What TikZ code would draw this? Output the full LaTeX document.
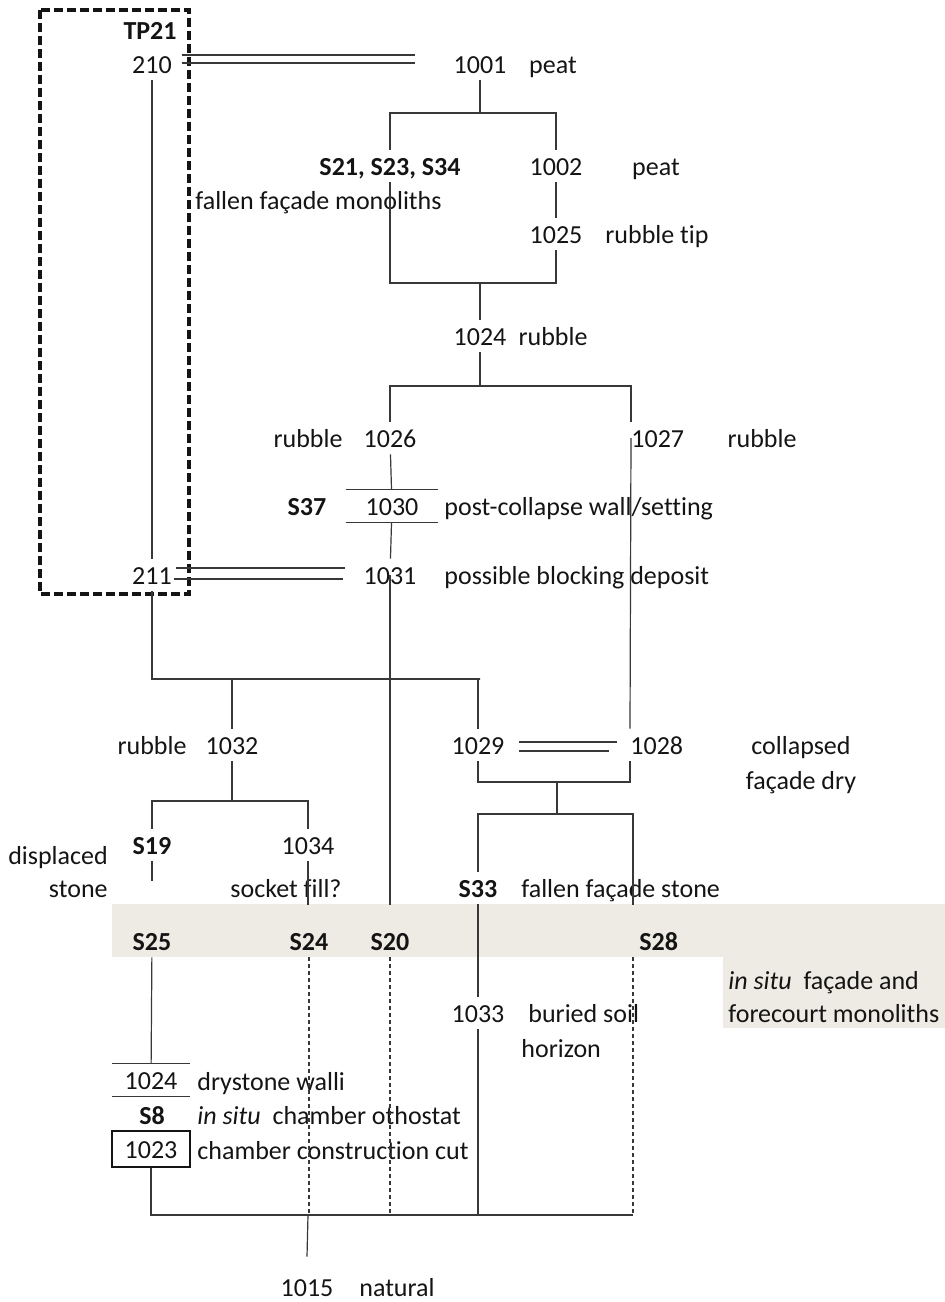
\documentclass[tikz,border=0pt]{standalone}
\usepackage{fontspec}
\setmainfont{Carlito}[Ligatures=NoCommon]
\usetikzlibrary{positioning}
\definecolor{bandgrey}{rgb}{0.933,0.922,0.894}
\definecolor{linegrey}{rgb}{0.22,0.22,0.22}
\definecolor{inkblack}{rgb}{0.08,0.08,0.08}

\begin{document}
\begin{tikzpicture}[line cap=butt,line join=miter,x=0.5pt,y=-0.5pt,
	every node/.style={font=\fontsize{13}{15}\selectfont,text=inkblack,inner sep=0pt,text height=9pt,text depth=0pt},
	ctx/.style={inner ysep=3.5pt},
	stone/.style={ctx,font=\fontsize{13}{15}\selectfont\bfseries},
	layer/.style={ctx,minimum width=39pt},
	link/.style={color=linegrey,line width=0.6pt},
	buried/.style={link,dash pattern=on 2pt off 1.5pt},
	pit/.style={color=inkblack,line width=1.6pt,dash pattern=on 4.5pt off 2pt}]
		\useasboundingbox (0,0) rectangle (945,1302);
		\fill [bandgrey] (112,904) rectangle (945,957);
		\fill [bandgrey] (723,957) rectangle (945,1028);
		\coordinate (bandtop) at (0,905);
		\draw [pit] (40,10) rectangle (189,594);
		% texts
		\node [stone,anchor=east] (tp21) at (177,30) {TP21};
		\node [ctx] (n210) at (152,64) {210};
		\node [ctx] (n1001) at (480,64) {1001};
		\node (peat1) at (553,64) {peat};
		\node [stone] (s21) at (390,166) {S21, S23, S34};
		\node [anchor=west] (fallen1) at (195,200) {fallen façade monoliths};
		\node [ctx] (n1002) at (556,166) {1002};
		\node (peat2) at (656,166) {peat};
		\node [ctx] (n1025) at (556,234) {1025};
		\node [anchor=west] (rubbletip) at (605,234) {rubble tip};
		\node [ctx] (n1024) at (480,336) {1024};
		\node (rubble1) at (553,336) {rubble};
		\node [ctx] (n1026) at (390,438) {1026};
		\node (rubble2) at (308,438) {rubble};
		\node [ctx,anchor=west] (n1027) at (631,438) {1027};
		\node (rubble3) at (762,438) {rubble};
		\node [stone] (s37) at (307,506) {S37};
		\node [ctx,minimum width=46pt] (n1030) at (392,506) {1030};
		\node [anchor=west] (postcollapse) at (444,506) {post-collapse wall/setting};
		\node [ctx] (n211) at (152,575) {211};
		\node [ctx] (n1031) at (390,575) {1031};
		\node [anchor=west] (blocking) at (444,575) {possible blocking deposit};
		\node (rubble4) at (152,745) {rubble};
		\node [ctx] (n1032) at (232,745) {1032};
		\node [ctx] (n1029) at (478,745) {1029};
		\node [ctx,anchor=west] (n1028) at (630,745) {1028};
		\node (collapsed) at (801,745) {collapsed};
		\node (facadedry) at (801,780) {façade dry};
		\node [stone] (s19) at (152,845) {S19};
		\node (displaced) at (58,855) {displaced};
		\node [anchor=east] (stonetxt) at (108,888) {stone};
		\node [ctx] (n1034) at (308,845) {1034};
		\node (socketfill) at (286,888) {socket fill?};
		\node [stone] (s33) at (478,888) {S33};
		\node [anchor=west] (fallenstone) at (521,888) {fallen façade stone};
		\node [stone] (s25) at (152,941) {S25};
		\node [stone] (s24) at (309,941) {S24};
		\node [stone] (s20) at (390,941) {S20};
		\node [stone,anchor=west] (s28) at (633,941) {\hspace{3pt}S28};
		\node [anchor=west] (insitu1) at (728,980) {\textit{in situ}\ \ façade and};
		\node [anchor=west] (insitu2) at (728,1013) {forecourt monoliths};
		\node [ctx] (n1033) at (478,1013) {1033};
		\node [anchor=west] (buried) at (528,1013) {buried soil};
		\node [anchor=west] (horizon) at (521,1048) {horizon};
		\node [layer] (n1024b) at (151,1080) {1024};
		\node [anchor=west] (drystone) at (197,1081) {drystone walli};
		\node [stone] (s8) at (152,1115) {S8};
		\node [anchor=west] (othostat) at (197,1115) {\textit{in situ}\ \ chamber othostat};
		\node [layer,draw=inkblack,line width=0.8pt,minimum height=18pt] (n1023) at (151,1149) {1023};
		\node [anchor=west] (cut) at (197,1150) {chamber construction cut};
		\node [ctx] (n1015) at (307,1287) {1015};
		\node (natural) at (397,1287) {natural};
		% equivalences
		\draw [link] ([xshift=5pt,yshift=4.5pt]n210.east) -- ([xshift=-19pt,yshift=4.5pt]n1001.west);
		\draw [link] ([xshift=5pt,yshift=0.5pt]n210.east) -- ([xshift=-19pt,yshift=0.5pt]n1001.west);
		\draw [link] ([xshift=2pt,yshift=3.5pt]n211.east) -- ([xshift=-9pt,yshift=3.5pt]n1031.west);
		\draw [link] ([xshift=1pt,yshift=-2pt]n211.east) -- ([xshift=-10pt,yshift=-2pt]n1031.west);
		\draw [link] ([xshift=7pt,yshift=1.5pt]n1029.east) -- ([xshift=-6.5pt,yshift=1.5pt]n1028.west);
		\draw [link] ([xshift=7pt,yshift=-3pt]n1029.east) -- ([xshift=-10.5pt,yshift=-3pt]n1028.west);
		% sequence
		\coordinate (b1) at (480,113);
		\coordinate (b2) at (480,283);
		\coordinate (b3) at (480,386);
		\coordinate (b4) at (480,679);
		\coordinate (b5) at (232,801);
		\coordinate (b6) at (557,782);
		\coordinate (b7) at (557,814);
		\coordinate (b8) at (308,1215);
		\draw [link] (n210) -- (n211);
		\draw [link] (n1001) -- (b1);
		\draw [link] (s21.north) |- (b1) -| (n1002.north);
		\draw [link] (n1002) -- (n1025);
		\draw [link] (s21.south) |- (b2) -| (n1025.south);
		\draw [link] (b2) -- (n1024);
		\draw [link] (n1024) -- (b3);
		\draw [link] (n1026.north) |- (b3) -| (n1027.north west);
		\draw [link] (n1026) -- (n1030);
		\draw [link] (n1030.north west) -- (n1030.north east);
		\draw [link] (n1030.south west) -- (n1030.south east);
		\draw [link] (n1030) -- (n1031);
		\draw [link] (n1031.center) -- (n1031.center |- bandtop);
		\draw [link] (n1027.west) -- (n1028.north west);
		\draw [link] (n211.south) |- (b4) -| (n1029.north);
		\draw [link] (n1032.north) -- (n1032.north |- b4);
		\draw [link] (n1032) -- (b5);
		\draw [link] (s19.north) |- (b5) -| (n1034.north);
		\draw [link] (s19.south) -- ++(0,20);
		\draw [link] (n1034.south) -- (n1034.south |- bandtop);
		\draw [link] (n1029.south) |- (b6) -| (n1028.south west);
		\draw [link] (b6) -- (b7);
		\draw [link] (s33.north) |- (b7) -| (s28.north west |- bandtop);
		\draw [link] (s33) -- (n1033);
		\draw [link] (s25) -- (n1024b);
		\draw [link] (n1024b.north west) -- (n1024b.north east);
		\draw [link] (n1024b.south west) -- (n1024b.south east);
		\draw [link] (n1023.south) |- (b8) -- (b8 -| s28.south west);
		\draw [link] (n1033) -- (n1033 |- b8);
		\draw [buried] (s24) -- (s24 |- b8);
		\draw [buried] (s20) -- (s20 |- b8);
		\draw [buried] (s28.south west) -- (s28.south west |- b8);
		\draw [link] (b8) -- ([yshift=7pt]n1015.north);
	\end{tikzpicture}
\end{document}
